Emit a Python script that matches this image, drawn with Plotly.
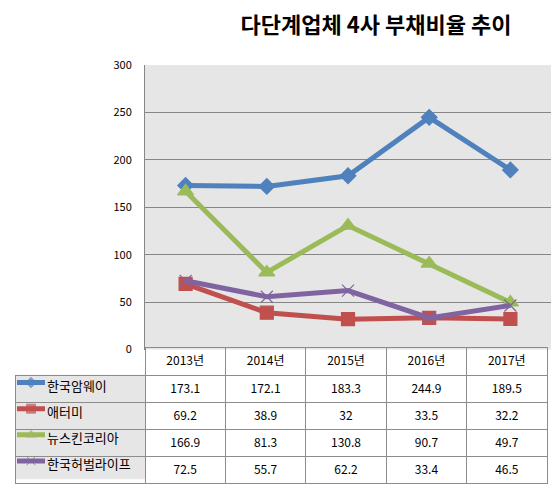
import plotly.graph_objects as go

# data
years = ['2013년', '2014년', '2015년', '2016년', '2017년']
companies = ['한국암웨이', '애터미', '뉴스킨코리아', '한국허벌라이프']
amway = [173.1, 172.1, 183.3, 244.9, 189.5]
atomy = [69.2, 38.9, 32, 33.5, 32.2]
nuskin = [166.9, 81.3, 130.8, 90.7, 49.7]
herbalife = [72.5, 55.7, 62.2, 33.4, 46.5]

series = [amway, atomy, nuskin, herbalife]
colors = ['#4F81BD', '#C0504D', '#9BBB59', '#8064A2']
symbols = ['diamond', 'square', 'triangle-up', 'x-thin-open']
sizes = [12, 13, 14, 12]
key_sizes = [8, 9, 9, 9]

W, H = 557, 492
FONT = 'Noto Sans CJK KR'


def px_x(v):
    return v / W


def px_y(v):
    return 1 - v / H


fig = go.Figure()

# main lines
for name, vals, c, s, sz in zip(companies, series, colors, symbols, sizes):
    fig.add_trace(go.Scatter(
        x=years, y=vals, name=name, mode='lines+markers',
        line=dict(color=c, width=5),
        marker=dict(symbol=s, size=sz, color=c,
                    line=dict(color=c, width=1.2)),
        hoverinfo='skip', showlegend=False))

# data table under the plot (first column left empty, keys + names drawn below it)
cell_vals = [[''] * len(companies)] + [[f'{v[i]:g}' for v in series] for i in range(len(years))]
fig.add_trace(go.Table(
    domain=dict(x=[px_x(15), px_x(547)], y=[0, px_y(350)]),
    columnwidth=[130] + [80.4] * len(years),
    header=dict(values=[''] + years, height=28,
                fill_color='rgba(0,0,0,0)',
                line=dict(color=['rgba(0,0,0,0)'] + ['#8c8c8c'] * len(years), width=1),
                align='center',
                font=dict(family=FONT, size=12, color='#000000')),
    cells=dict(values=cell_vals, height=27,
               fill_color='rgba(0,0,0,0)',
               line=dict(color='#8c8c8c', width=1),
               align='center',
               font=dict(family=FONT, size=12, color='#000000')),
))

# legend keys + names in the table's first column
for i, (name, c, s, ks) in enumerate(zip(companies, colors, symbols, key_sizes)):
    fig.add_trace(go.Scatter(
        x=[2, 16, 30], y=[i - 0.2] * 3, mode='lines+markers',
        line=dict(color=c, width=5),
        marker=dict(symbol=s, size=[0, ks, 0], color=c, line=dict(color=c, width=1)),
        xaxis='x2', yaxis='y2', hoverinfo='skip', showlegend=False))
    fig.add_trace(go.Scatter(
        x=[32], y=[i], mode='text', text=[name], textposition='middle right',
        textfont=dict(family=FONT, size=13, color='#000000'),
        xaxis='x2', yaxis='y2', hoverinfo='skip', showlegend=False))

fig.update_layout(
    width=W, height=H,
    margin=dict(l=0, r=0, t=0, b=0),
    paper_bgcolor='white',
    plot_bgcolor='#E6E6E6',
    font=dict(family=FONT, size=11, color='#000000'),
    title=dict(text='<b>다단계업체 4사 부채비율 추이</b>',
               x=px_x(376), y=px_y(25), xanchor='center', yanchor='middle',
               font=dict(family=FONT, size=22, color='#000000')),
    xaxis=dict(domain=[px_x(145), px_x(551)], type='category',
               range=[-0.5, 4.5], showticklabels=False,
               showgrid=False, zeroline=False, showline=False),
    yaxis=dict(domain=[px_y(352), px_y(58)], range=[0, 300], dtick=50,
               showgrid=True, gridcolor='#868686', gridwidth=1,
               zeroline=False, showline=True, linecolor='#868686',
               ticks='outside', ticklen=10, tickcolor='rgba(0,0,0,0)',
               tickfont=dict(family=FONT, size=11, color='#000000')),
    xaxis2=dict(domain=[px_x(15), px_x(145)], range=[0, 130],
                visible=False, fixedrange=True),
    yaxis2=dict(domain=[px_y(486), px_y(378)], range=[3.5, -0.5],
                visible=False, fixedrange=True),
)

# drop the page's default body margin so the figure sits at the window corner
fig.write_html('out.html', config={'displayModeBar': False},
               post_script="document.body.style.margin='0';")
